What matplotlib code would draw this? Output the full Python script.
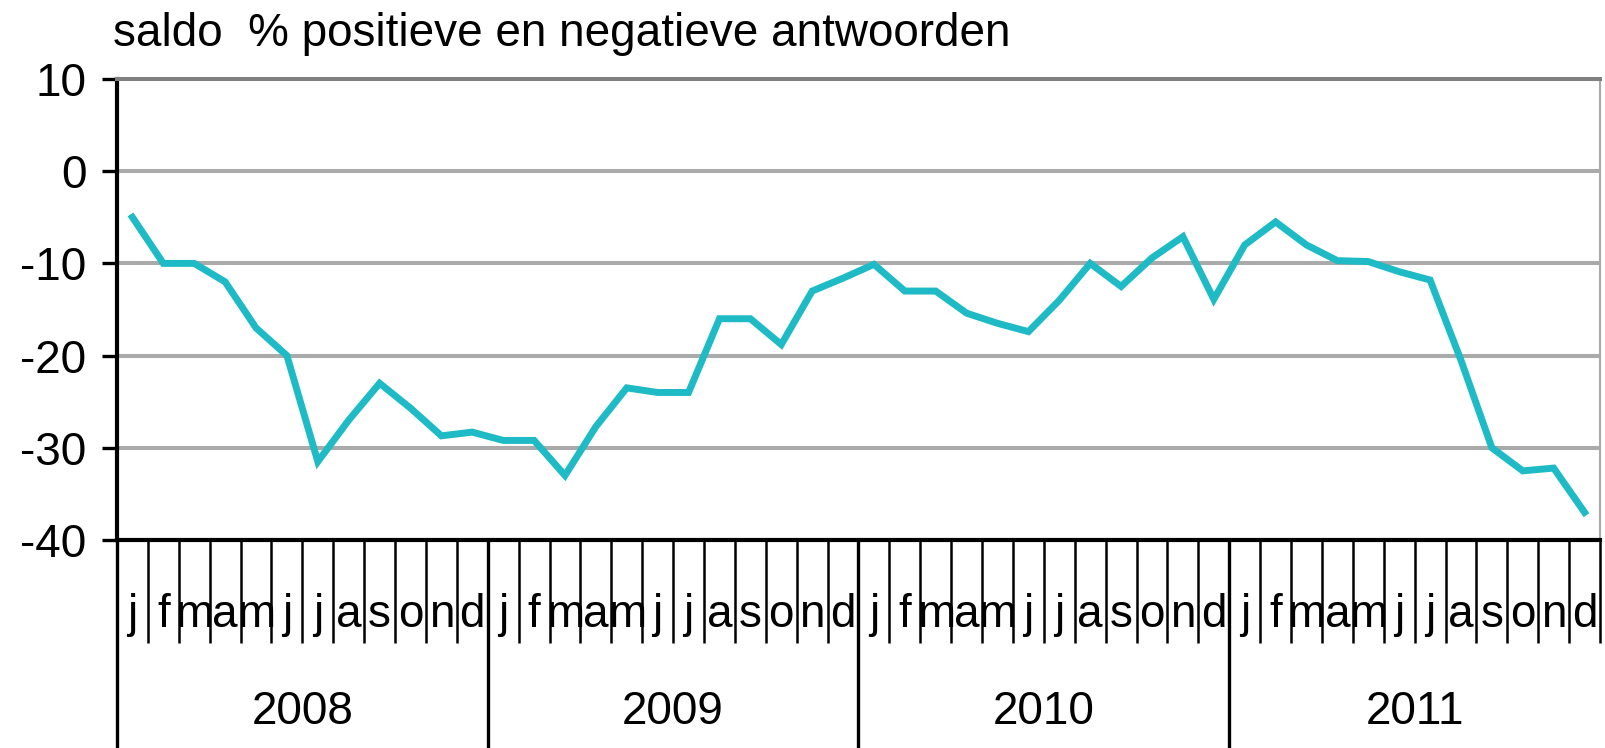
import matplotlib
matplotlib.use("Agg")
import matplotlib.pyplot as plt
import numpy as np

plt.rcParams["font.family"] = ["Liberation Sans", "DejaVu Sans"]

# saldo per month, 2008-2011
years = ["2008", "2009", "2010", "2011"]
months = ["j", "f", "m", "a", "m", "j", "j", "a", "s", "o", "n", "d"]
saldo_2008 = [-5, -10, -10, -12, -17, -20, -31.5, -27, -23, -25.7, -28.7, -28.3]
saldo_2009 = [-29.2, -29.2, -33, -27.7, -23.5, -24, -24, -16, -16, -18.8, -13, -11.6]
saldo_2010 = [-10.1, -13, -13, -15.4, -16.5, -17.4, -14, -10, -12.5, -9.4, -7.1, -13.9]
saldo_2011 = [-8, -5.5, -8, -9.7, -9.8, -10.9, -11.8, -20.5, -30, -32.5, -32.2, -37]
y_ticks = [-40, -30, -20, -10, 0, 10]

saldo = saldo_2008 + saldo_2009 + saldo_2010 + saldo_2011
n = len(saldo)
x = np.arange(n) + 0.5

W, H = 1606, 748
fs = 33
fig = plt.figure(figsize=(W / 100, H / 100), dpi=100)
ax = fig.add_axes([117 / W, 1 - 540 / H, (1600 - 117) / W, (540 - 79) / H])

ax.plot(x, saldo, color="#1ebbc6", lw=5, solid_joinstyle="miter", zorder=3)

ax.set_xlim(0, n)
ax.set_ylim(-40, 10)
ax.set_yticks(y_ticks)
ax.set_yticklabels([str(v) for v in y_ticks], fontsize=fs)
ax.tick_params(axis="y", length=11, width=2.4, pad=11, direction="out")
ax.yaxis.grid(True, color="#aaaaaa", lw=2.9, zorder=1)
ax.set_axisbelow(True)

# month separators as long ticks, month letters as minor tick labels
ax.set_xticks(np.arange(n + 1))
ax.set_xticklabels([])
ax.tick_params(axis="x", which="major", length=74, width=1.8, direction="out")
ax.set_xticks(x, minor=True)
ax.set_xticklabels(months * len(years), minor=True, fontsize=fs)
ax.tick_params(axis="x", which="minor", length=0, pad=38)

# year separators and year labels below the month labels
trans = ax.get_xaxis_transform()
ax.vlines(np.arange(len(years)) * 12, -208 / 461, 0, transform=trans,
          color="black", lw=2.4, clip_on=False)
for k, yr in enumerate(years):
    ax.text(k * 12 + 6, -172 / 461, yr, transform=trans, ha="center",
            va="center", fontsize=fs)

for side in ["left", "bottom"]:
    ax.spines[side].set_linewidth(3)
    ax.spines[side].set_color("black")
ax.spines["top"].set_color("#808080")
ax.spines["top"].set_linewidth(2.9)
ax.spines["right"].set_color("#aaaaaa")
ax.spines["right"].set_linewidth(1.5)

fig.text(113 / W, 1 - 46 / H, "saldo  % positieve en negatieve antwoorden",
         fontsize=fs, va="baseline", ha="left")

fig.savefig("out.png", dpi=100)
